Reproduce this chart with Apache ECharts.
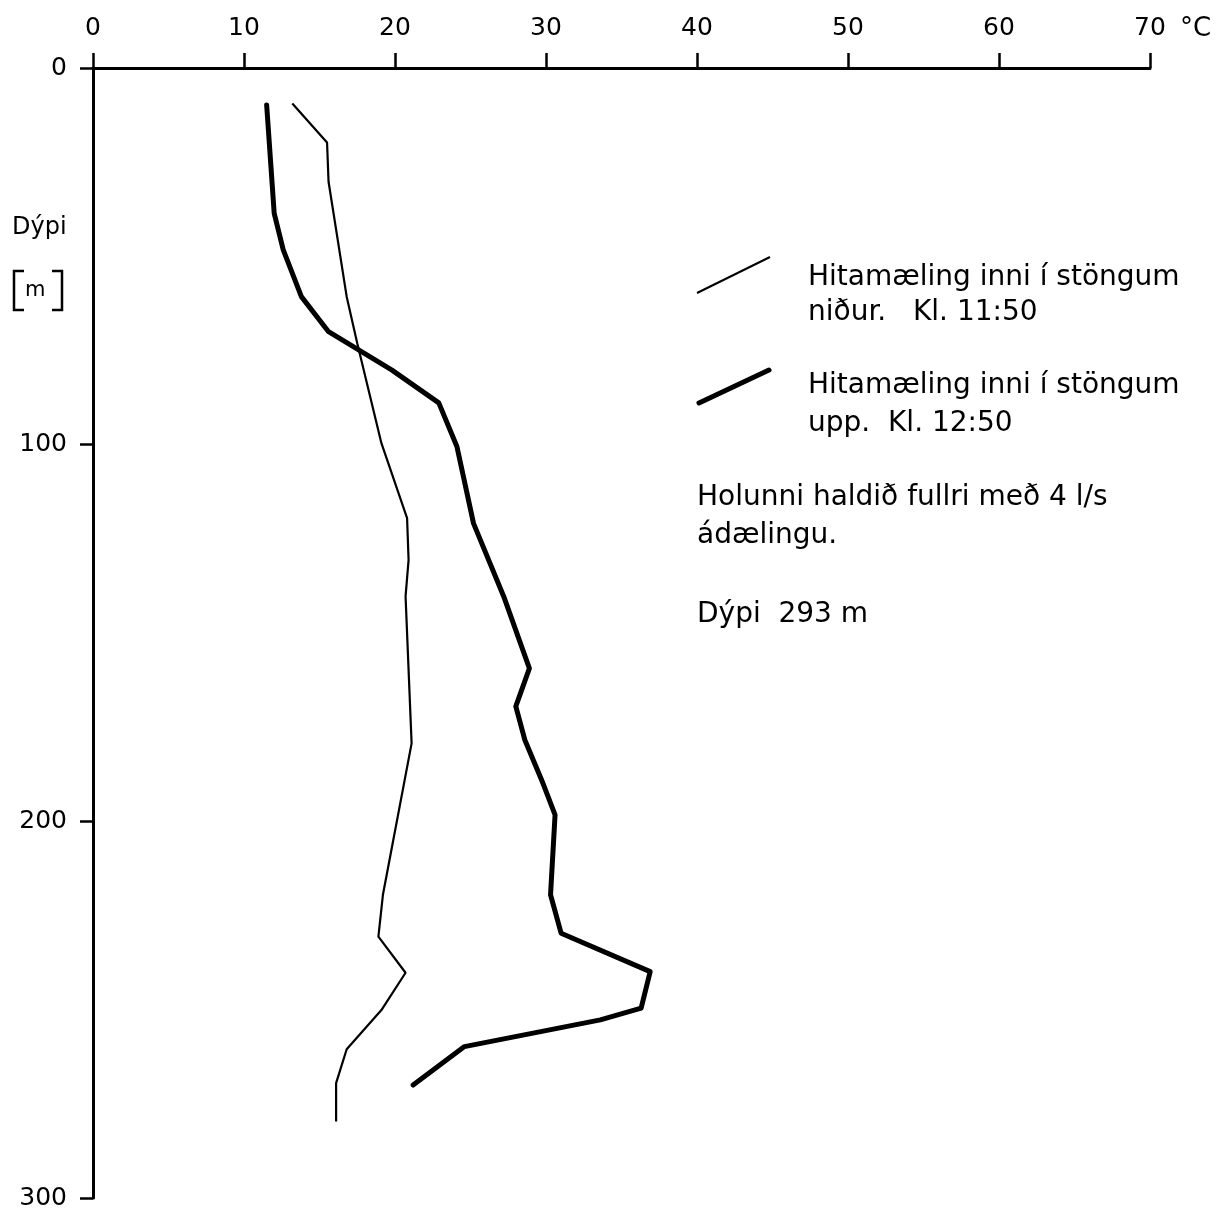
<!DOCTYPE html>
<html>
<head>
<meta charset="utf-8">
<script src="https://cdn.jsdelivr.net/npm/echarts@6/dist/echarts.min.js"></script>
<style>
html,body{margin:0;padding:0;background:#fff;}
#chart{width:1220px;height:1212px;}
</style>
</head>
<body>
<div id="chart"></div>
<script>
// Temperature (°C) and depth (m)
var tempDown  = [13.2, 15.5, 15.6, 16.8, 17.5, 19.1, 20.8, 20.9, 20.7, 21.1, 19.2, 18.9, 20.7, 19.1, 16.8, 16.1, 16.1];
var depthDown = [9.4, 19.8, 30.2, 60.7, 73.1, 99.6, 119.5, 130.6, 140.3, 179.3, 219.5, 230.6, 240.2, 250.1, 260.5, 269.5, 279.7];

var tempUp  = [11.5, 12.0, 12.6, 13.8, 15.6, 19.8, 22.9, 24.1, 25.2, 27.2, 28.9, 28.0, 28.6, 29.8, 30.6, 30.3, 31.0, 36.9, 36.3, 33.6, 24.6, 21.2];
var depthUp = [9.8, 38.6, 48.3, 60.7, 70.0, 80.2, 88.9, 100.5, 120.9, 140.3, 159.4, 169.5, 178.4, 189.9, 198.3, 219.5, 229.7, 239.9, 249.6, 252.7, 259.8, 270.0];

var tempTicks  = [0, 10, 20, 30, 40, 50, 60, 70];
var depthTicks = [0, 100, 200, 300];

var seriesNames = ['Hitamæling inni í stöngum niður. Kl. 11:50', 'Hitamæling inni í stöngum upp. Kl. 12:50'];

function pairs(t, d){ return t.map(function(v,i){ return [v, d[i]]; }); }

var FONT = '"DejaVu Sans", sans-serif';
var chart = echarts.init(document.getElementById('chart'), null, {renderer:'canvas'});
var txt = function(x,y,s,size){
  return {type:'text', x:x, y:y, style:{text:s, fill:'#000', font:'normal ' + (size||28) + 'px ' + FONT, verticalAlign:'middle', align:'left'}};
};
chart.setOption({
  animation:false,
  backgroundColor:'#fff',
  grid:{left:93, top:68, right:70, bottom:14},
  xAxis:{
    type:'value', position:'top', min:tempTicks[0], max:tempTicks[tempTicks.length-1], interval:10,
    axisLine:{onZero:false, lineStyle:{color:'#000', width:3}},
    axisTick:{show:true, inside:false, length:15, lineStyle:{color:'#000', width:2.5}},
    axisLabel:{color:'#000', fontSize:25, fontFamily:FONT, margin:27},
    splitLine:{show:false}
  },
  yAxis:{
    type:'value', inverse:true, min:depthTicks[0], max:depthTicks[depthTicks.length-1], interval:100,
    axisLine:{onZero:false, lineStyle:{color:'#000', width:3}},
    axisTick:{show:true, inside:false, length:13, lineStyle:{color:'#000', width:2.5}},
    axisLabel:{color:'#000', fontSize:25, fontFamily:FONT, margin:26},
    splitLine:{show:false}
  },
  series:[
    {name:seriesNames[0], type:'line', data:pairs(tempDown, depthDown), showSymbol:false, symbol:'none',
     lineStyle:{color:'#000', width:2.2}, z:3},
    {name:seriesNames[1], type:'line', data:pairs(tempUp, depthUp), showSymbol:false, symbol:'none',
     lineStyle:{color:'#000', width:5, join:'round', cap:'round'}, z:4}
  ],
  graphic:[
    txt(1180, 29, '°C', 26),
    txt(12, 228, 'Dýpi', 24),
    {type:'polyline', shape:{points:[[24,271],[14,271],[14,310],[24,310]]}, style:{stroke:'#000', lineWidth:2.5, fill:null}},
    {type:'polyline', shape:{points:[[52,271],[62,271],[62,310],[52,310]]}, style:{stroke:'#000', lineWidth:2.5, fill:null}},
    txt(25, 291, 'm', 21),
    {type:'line', shape:{x1:697, y1:293, x2:770, y2:257}, style:{stroke:'#000', lineWidth:2}},
    {type:'line', shape:{x1:699, y1:403, x2:769, y2:370}, style:{stroke:'#000', lineWidth:5, lineCap:'round'}},
    txt(808, 278, 'Hitamæling inni í stöngum'),
    txt(808, 313, 'niður.   Kl. 11:50'),
    txt(808, 386, 'Hitamæling inni í stöngum'),
    txt(808, 424, 'upp.  Kl. 12:50'),
    txt(697, 498, 'Holunni haldið fullri með 4 l/s'),
    txt(697, 536, 'ádælingu.'),
    txt(697, 615, 'Dýpi  293 m')
  ]
});
</script>
</body>
</html>
